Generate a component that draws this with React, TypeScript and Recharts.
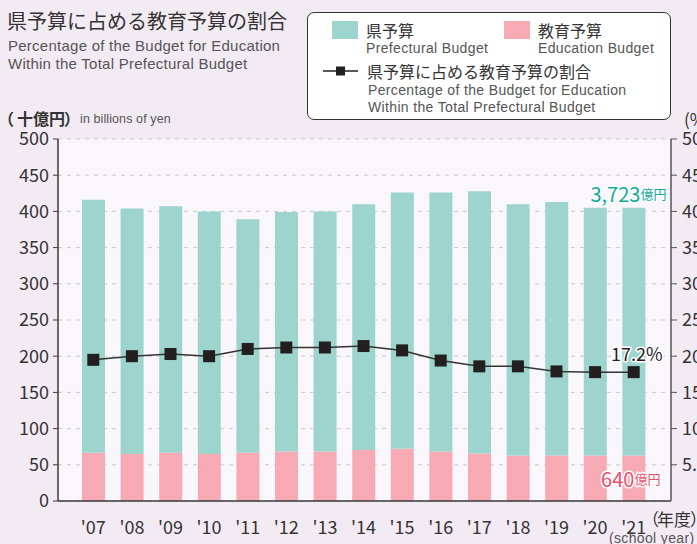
import React from "react";
import {
  ComposedChart,
  Bar,
  Line,
  XAxis,
  YAxis,
  CartesianGrid,
  LabelList,
} from "recharts";

const years = ["'07", "'08", "'09", "'10", "'11", "'12", "'13", "'14", "'15", "'16", "'17", "'18", "'19", "'20", "'21"];
const prefBudget = [416, 404, 407, 400, 389, 399, 400, 410, 426, 426, 428, 410, 413, 405, 405];
const eduBudget = [66.5, 65, 66.5, 65, 66.5, 68.3, 68.3, 70.6, 72, 68.3, 65.5, 62.7, 62.7, 62.7, 62.7];
const eduShare = [19.5, 20.0, 20.3, 20.0, 21.0, 21.2, 21.2, 21.4, 20.8, 19.4, 18.6, 18.6, 17.9, 17.8, 17.8];
const leftTicks = [0, 50, 100, 150, 200, 250, 300, 350, 400, 450, 500];
const rightTicks = [5, 10, 15, 20, 25, 30, 35, 40, 45, 50];
const lastPrefLabel = "3,723";
const lastEduLabel = "640";
const lastShareLabel = "17.2%";

const data = years.map((y, i) => ({
  year: y,
  edu: eduBudget[i],
  rest: prefBudget[i] - eduBudget[i],
  share: eduShare[i],
}));

const TEAL = "#9dd5ce";
const PINK = "#f7aab4";
const DARK = "#333";
const FONT = "'Noto Sans CJK JP', 'Noto Sans', sans-serif";
const LATIN = "'Liberation Sans', Arial, sans-serif";
const LAST = years.length - 1;

const SquareDot = (props: any) => {
  const { cx, cy } = props;
  if (cx == null || cy == null) return null;
  return <rect x={cx - 6} y={cy - 6} width={12} height={12} fill="#231f20" />;
};

const XTick = (props: any) => {
  const { x, y, payload } = props;
  return (
    <text x={x} y={y + 17} textAnchor="middle" dominantBaseline="central" fontSize={18} fill={DARK} fontFamily={FONT}>
      {payload.value}
    </text>
  );
};

const PrefLabel = (props: any) => {
  const { x, y, width, index } = props;
  if (index !== LAST) return null;
  return (
    <text x={x + width + 21} y={y - 15} textAnchor="end" dominantBaseline="central" fill="#12a899" fontFamily={FONT}
      stroke="#fff" strokeWidth={3} paintOrder="stroke" strokeLinejoin="round">
      <tspan fontSize={20}>{lastPrefLabel}</tspan>
      <tspan fontSize={13}>億円</tspan>
    </text>
  );
};

const EduLabel = (props: any) => {
  const { x, y, width, height, index } = props;
  if (index !== LAST) return null;
  return (
    <text x={x + width + 15} y={y + height / 2} textAnchor="end" dominantBaseline="central" fill="#e9506b" fontFamily={FONT}
      stroke="#fff" strokeWidth={3} paintOrder="stroke" strokeLinejoin="round">
      <tspan fontSize={20}>{lastEduLabel}</tspan>
      <tspan fontSize={13}>億円</tspan>
    </text>
  );
};

const ShareLabel = (props: any) => {
  const { x, y, index } = props;
  if (index !== LAST) return null;
  return (
    <text x={x + 3} y={y - 19} textAnchor="middle" dominantBaseline="central" fill="#231f20" fontFamily={FONT} fontSize={18}
      stroke="#fff" strokeWidth={3} paintOrder="stroke" strokeLinejoin="round">
      {lastShareLabel}
    </text>
  );
};

export default function App() {
  return (
    <div style={{ position: "absolute", left: 0, top: 0, width: 697, height: 544, background: "#f3ebf4", overflow: "hidden", fontFamily: FONT }}>
      <div style={{ position: "absolute", left: 0, top: 0 }}>
        <ComposedChart width={697} height={544} data={data} margin={{ top: 139, right: 0, bottom: 0, left: 0 }}>
          <CartesianGrid yAxisId="left" vertical={false} fill="#f9f7fb" stroke="#c9c9c9" strokeDasharray="4 5" />
          <XAxis dataKey="year" height={43} padding={{ left: 16, right: 18 }} tickLine={false} axisLine={{ stroke: "#3a3a3a", strokeWidth: 1.5 }} tick={<XTick />} interval={0} />
          <YAxis yAxisId="left" width={58} domain={[0, 500]} ticks={leftTicks} tickSize={5} tickMargin={4}
            axisLine={{ stroke: "#3a3a3a", strokeWidth: 1.5 }} tickLine={{ stroke: "#3a3a3a" }}
            tick={{ fontSize: 18, fill: DARK, fontFamily: FONT }} />
          <YAxis yAxisId="right" orientation="right" width={26} domain={[0, 50]} ticks={rightTicks} tickSize={6} tickMargin={5}
            axisLine={{ stroke: "#555", strokeWidth: 1.5 }} tickLine={{ stroke: "#555" }}
            tickFormatter={(v: number) => v.toFixed(1)}
            tick={{ fontSize: 18, fill: DARK, fontFamily: FONT, textAnchor: "start" }} />
          <Bar yAxisId="left" dataKey="edu" stackId="a" fill={PINK} barSize={23} isAnimationActive={false}>
            <LabelList dataKey="edu" content={<EduLabel />} />
          </Bar>
          <Bar yAxisId="left" dataKey="rest" stackId="a" fill={TEAL} barSize={23} isAnimationActive={false}>
            <LabelList dataKey="rest" content={<PrefLabel />} />
          </Bar>
          <Line yAxisId="right" dataKey="share" stroke="#333" strokeWidth={1.5} dot={<SquareDot />} activeDot={false} isAnimationActive={false}>
            <LabelList dataKey="share" content={<ShareLabel />} />
          </Line>
        </ComposedChart>
      </div>

      <div style={{ position: "absolute", left: 307, top: 12, width: 362, height: 106, border: "1.5px solid #333", borderRadius: 7, background: "#fff" }} />

      <svg width={697} height={544} style={{ position: "absolute", left: 0, top: 0, pointerEvents: "none" }} fontFamily={FONT}>
        <text x={7} y={20} fontSize={20} fill={DARK} dominantBaseline="central">県予算に占める教育予算の割合</text>
        <text x={8} y={45} fontSize={15} fill="#555" fontFamily={LATIN} letterSpacing={0.25} dominantBaseline="central">Percentage of the Budget for Education</text>
        <text x={8} y={63} fontSize={15} fill="#555" fontFamily={LATIN} letterSpacing={0.25} dominantBaseline="central">Within the Total Prefectural Budget</text>
        <text y={118} fontSize={16} fill={DARK} fontWeight="bold" dominantBaseline="central">
          <tspan x={-2}>（</tspan>
          <tspan x={17}>十億円</tspan>
          <tspan x={64}>）</tspan>
        </text>
        <text x={80} y={119} fontSize={12.5} fill="#555" fontFamily={LATIN} letterSpacing={0.1} dominantBaseline="central">in billions of yen</text>
        <text x={684} y={118} fontSize={17} fill={DARK} dominantBaseline="central">(%)</text>
        <text y={518} fontSize={17} fill={DARK} dominantBaseline="central">
          <tspan x={642}>（</tspan>
          <tspan x={657}>年度</tspan>
          <tspan x={690}>）</tspan>
        </text>
        <text x={609} y={538} fontSize={14} fill="#555" fontFamily={LATIN} letterSpacing={0.35} dominantBaseline="central">(school year)</text>

        <rect x={332} y={21} width={26} height={18} fill={TEAL} />
        <text x={366} y={30} fontSize={16} fill={DARK} dominantBaseline="central">県予算</text>
        <text x={366} y={48} fontSize={14} fill="#555" fontFamily={LATIN} letterSpacing={0.35} dominantBaseline="central">Prefectural Budget</text>
        <rect x={504} y={21} width={26} height={18} fill={PINK} />
        <text x={538} y={30} fontSize={16} fill={DARK} dominantBaseline="central">教育予算</text>
        <text x={538} y={48} fontSize={14} fill="#555" fontFamily={LATIN} letterSpacing={0.35} dominantBaseline="central">Education Budget</text>
        <line x1={323} y1={71} x2={358} y2={71} stroke="#231f20" strokeWidth={1.5} />
        <rect x={336} y={66.5} width={9} height={9} fill="#231f20" />
        <text x={367} y={71} fontSize={16} fill={DARK} dominantBaseline="central">県予算に占める教育予算の割合</text>
        <text x={368} y={90} fontSize={14} fill="#555" fontFamily={LATIN} letterSpacing={0.35} dominantBaseline="central">Percentage of the Budget for Education</text>
        <text x={368} y={107} fontSize={14} fill="#555" fontFamily={LATIN} letterSpacing={0.35} dominantBaseline="central">Within the Total Prefectural Budget</text>
      </svg>
    </div>
  );
}
